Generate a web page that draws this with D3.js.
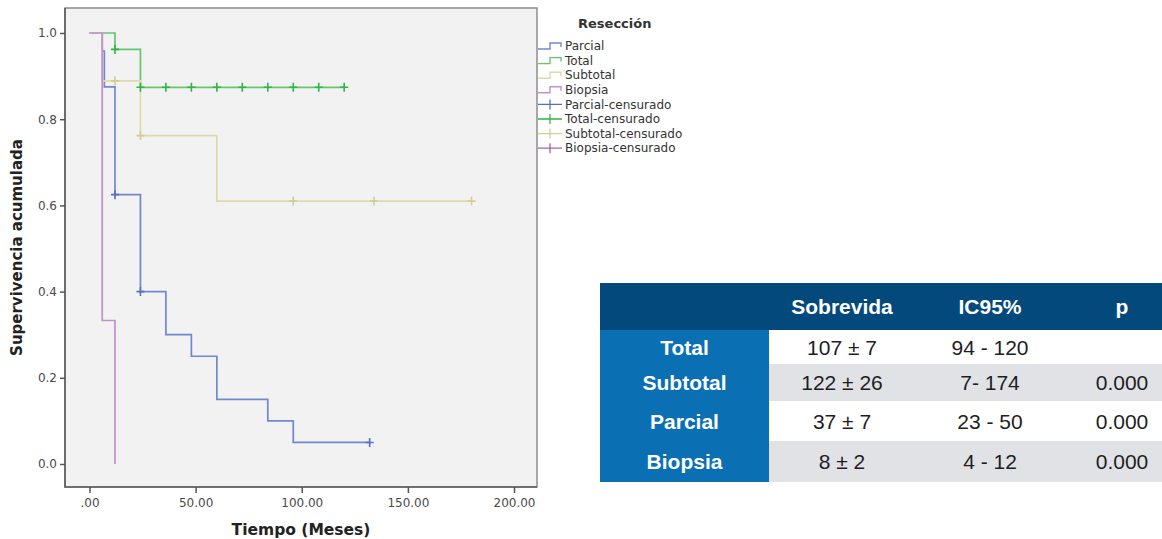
<!DOCTYPE html>
<html>
<head>
<meta charset="utf-8">
<script src="https://cdn.jsdelivr.net/npm/d3@7"></script>
<style>
  html, body { margin: 0; padding: 0; background: #ffffff; }
  svg { display: block; }
</style>
</head>
<body>
<svg id="chart" width="1162" height="539"></svg>
<script>
// Kaplan–Meier survival by type of resection (time in months)
const groups = ["Parcial", "Total", "Subtotal", "Biopsia"];

const parcialTimes = [0, 6, 7, 12, 24, 36, 48, 60, 84, 96, 132];
const parcialSurv  = [1, 0.958, 0.875, 0.625, 0.40, 0.30, 0.25, 0.15, 0.10, 0.05, 0.05];
const parcialCens  = [12, 24, 132];

const totalTimes = [0, 12, 24, 120];
const totalSurv  = [1, 0.962, 0.874, 0.874];
const totalCens  = [12, 24, 36, 48, 60, 72, 84, 96, 108, 120];

const subtotalTimes = [0, 6, 24, 60, 180];
const subtotalSurv  = [1, 0.889, 0.762, 0.61, 0.61];
const subtotalCens  = [12, 24, 96, 134, 180];

const biopsiaTimes = [0, 6, 12];
const biopsiaSurv  = [1, 0.333, 0];
const biopsiaCens  = [];

const xTicks = [0, 50, 100, 150, 200];
const yTicks = [0, 0.2, 0.4, 0.6, 0.8, 1.0];

// Summary table
const tableHeader = ["", "Sobrevida", "IC95%", "p"];
const tableRows   = ["Total", "Subtotal", "Parcial", "Biopsia"];
const sobrevida   = ["107 ± 7", "122 ± 26", "37 ± 7", "8 ± 2"];
const ic95        = ["94 - 120", "7- 174", "23 - 50", "4 - 12"];
const pValues     = ["", "0.000", "0.000", "0.000"];

// ---------------------------------------------------------------
const svg = d3.select("#chart");
const colors = {
  Parcial:  { line: "#7088d0", mark: "#5570c8" },
  Total:    { line: "#62c870", mark: "#2fb548" },
  Subtotal: { line: "#dedaac", mark: "#d2cd94" },
  Biopsia:  { line: "#c48fcb", mark: "#a860b0" }
};
const series = [
  { name: "Parcial",  times: parcialTimes,  surv: parcialSurv,  cens: parcialCens },
  { name: "Total",    times: totalTimes,    surv: totalSurv,    cens: totalCens },
  { name: "Subtotal", times: subtotalTimes, surv: subtotalSurv, cens: subtotalCens },
  { name: "Biopsia",  times: biopsiaTimes,  surv: biopsiaSurv,  cens: biopsiaCens }
];

const frame = { left: 65, top: 8, right: 537, bottom: 487 };
const x = d3.scaleLinear().domain([0, 200]).range([89.5, 514]);
const y = d3.scaleLinear().domain([0, 1]).range([464, 33]);

const chartFont = "'DejaVu Sans', Verdana, sans-serif";

// plot background and frame
svg.append("rect")
  .attr("x", frame.left).attr("y", frame.top)
  .attr("width", frame.right - frame.left).attr("height", frame.bottom - frame.top)
  .attr("fill", "#f2f2f2").attr("stroke", "#8c8c8c").attr("stroke-width", 1.5);
svg.append("path")
  .attr("d", `M${frame.left},${frame.top}V${frame.bottom}H${frame.right}`)
  .attr("fill", "none").attr("stroke", "#5e5e5e").attr("stroke-width", 1.6);

// axes
const yAxis = svg.append("g")
  .attr("transform", `translate(${frame.left},0)`)
  .call(d3.axisLeft(y).tickValues(yTicks).tickSize(5).tickPadding(3).tickFormat(d3.format(".1f")));
const xAxis = svg.append("g")
  .attr("transform", `translate(0,${frame.bottom})`)
  .call(d3.axisBottom(x).tickValues(xTicks).tickSize(6).tickPadding(5)
    .tickFormat(d => d === 0 ? ".00" : d3.format(".2f")(d)));
[yAxis, xAxis].forEach(g => {
  g.select(".domain").remove();
  g.selectAll(".tick line").attr("stroke", "#555").attr("stroke-width", 1.5);
  g.selectAll(".tick text").attr("fill", "#4a4a4a").style("font-family", chartFont).style("font-size", "12px");
});

// axis titles
svg.append("text")
  .attr("transform", `translate(22,${(frame.top + frame.bottom) / 2}) rotate(-90)`)
  .attr("text-anchor", "middle")
  .style("font-family", chartFont).style("font-size", "15px").style("font-weight", "bold")
  .attr("fill", "#222").text("Supervivencia acumulada");
svg.append("text")
  .attr("x", (frame.left + frame.right) / 2).attr("y", 535)
  .attr("text-anchor", "middle")
  .style("font-family", chartFont).style("font-size", "15.5px").style("font-weight", "bold")
  .attr("fill", "#222").text("Tiempo (Meses)");

// survival step curves
const stepLine = d3.line().x(d => x(d[0])).y(d => y(d[1])).curve(d3.curveStepAfter);
const plot = svg.append("g");
series.forEach(s => {
  const pts = s.times.map((t, i) => [t, s.surv[i]]);
  plot.append("path")
    .attr("d", stepLine(pts))
    .attr("fill", "none")
    .attr("stroke", colors[s.name].line)
    .attr("stroke-width", 1.7);
});

// censored observations
function survivalAt(s, t) {
  let v = s.surv[0];
  s.times.forEach((tt, i) => { if (tt <= t) v = s.surv[i]; });
  return v;
}
series.forEach(s => {
  s.cens.forEach(t => {
    const cx = x(t), cy = y(survivalAt(s, t));
    plot.append("path")
      .attr("d", `M${cx - 4},${cy}H${cx + 4}M${cx},${cy - 4.5}V${cy + 4.5}`)
      .attr("stroke", colors[s.name].mark)
      .attr("stroke-width", 1.6)
      .attr("fill", "none");
  });
});

// legend
const legend = svg.append("g");
legend.append("text")
  .attr("x", 578).attr("y", 28)
  .style("font-family", chartFont).style("font-size", "13px").style("font-weight", "bold")
  .attr("fill", "#333").text("Resección");

const legendItems = groups.map(g => ({ name: g, cens: false }))
  .concat(groups.map(g => ({ name: g, cens: true })));
legendItems.forEach((item, i) => {
  const ly = 46 + i * 14.6;
  if (item.cens) {
    legend.append("path")
      .attr("d", `M538,${ly}H562M550,${ly - 5}V${ly + 5}`)
      .attr("stroke", colors[item.name].mark).attr("stroke-width", 1.3).attr("fill", "none");
  } else {
    legend.append("path")
      .attr("d", `M538,${ly + 3}H550V${ly - 3}H561V${ly + 1}`)
      .attr("stroke", colors[item.name].line).attr("stroke-width", 1.4).attr("fill", "none");
  }
  legend.append("text")
    .attr("x", 565).attr("y", ly + 4.2)
    .style("font-family", chartFont).style("font-size", "12px")
    .attr("fill", "#333")
    .text(item.cens ? item.name + "-censurado" : item.name);
});

// summary table
const tableFont = "'Liberation Sans', Arial, sans-serif";
const tbl = svg.append("g");
const tLeft = 600, tRight = 1162, labelRight = 769;
const headerTop = 283, headerBottom = 330;
const rowEdges = [330, 364, 401, 441, 482];
const colCenters = [684.5, 842, 990, 1122];

tbl.append("rect")
  .attr("x", tLeft).attr("y", headerTop)
  .attr("width", tRight - tLeft).attr("height", headerBottom - headerTop)
  .attr("fill", "#03497c");
tableHeader.forEach((h, j) => {
  tbl.append("text")
    .attr("x", colCenters[j]).attr("y", (headerTop + headerBottom) / 2 + 7.5)
    .attr("text-anchor", "middle")
    .style("font-family", tableFont).style("font-size", "21px").style("font-weight", "bold")
    .attr("fill", "#ffffff").text(h);
});

tableRows.forEach((r, i) => {
  const top = rowEdges[i], bottom = rowEdges[i + 1];
  const cy = (top + bottom) / 2 + 7.5;
  tbl.append("rect")
    .attr("x", labelRight).attr("y", top)
    .attr("width", tRight - labelRight).attr("height", bottom - top)
    .attr("fill", i % 2 === 0 ? "#ffffff" : "#e1e2e6");
  tbl.append("rect")
    .attr("x", tLeft).attr("y", top)
    .attr("width", labelRight - tLeft).attr("height", bottom - top)
    .attr("fill", "#0b6fb4");
  tbl.append("text")
    .attr("x", colCenters[0]).attr("y", cy).attr("text-anchor", "middle")
    .style("font-family", tableFont).style("font-size", "21px").style("font-weight", "bold")
    .attr("fill", "#ffffff").text(r);
  [sobrevida[i], ic95[i], pValues[i]].forEach((v, j) => {
    tbl.append("text")
      .attr("x", colCenters[j + 1]).attr("y", cy).attr("text-anchor", "middle")
      .style("font-family", tableFont).style("font-size", "21px")
      .attr("fill", "#1e1e1e").text(v);
  });
});
</script>
</body>
</html>
